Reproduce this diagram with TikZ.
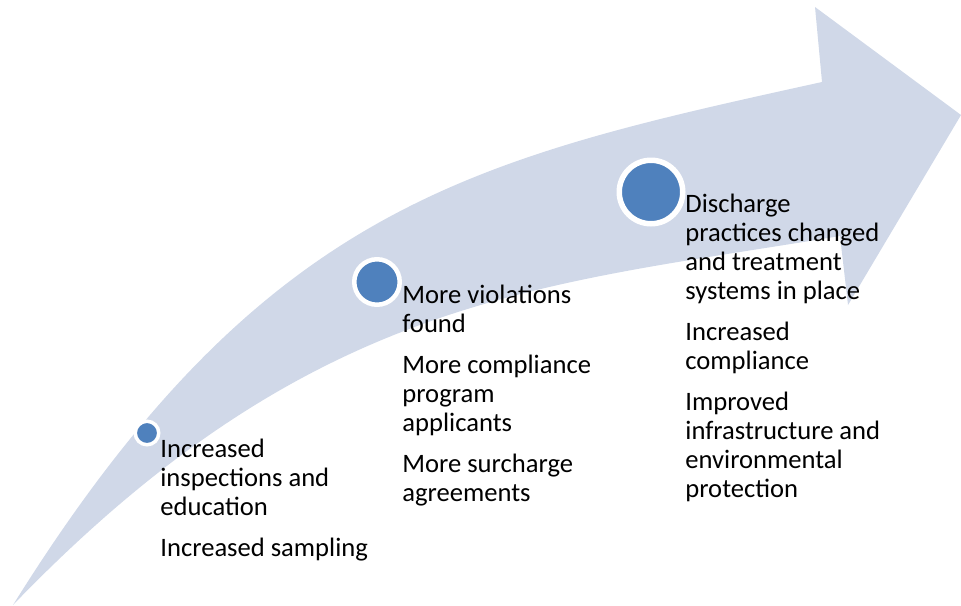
\documentclass[tikz,border=0pt]{standalone}
\usepackage{fontspec}
\setmainfont{Carlito}
\definecolor{arrowfill}{HTML}{D0D8E8}
\definecolor{dotblue}{HTML}{4F81BD}

\begin{document}
\begin{tikzpicture}[x=0.5pt,y=-0.5pt,
    dot/.style={circle,draw=white,fill=dotblue,inner sep=0pt},
    txt/.style={anchor=north west,inner sep=0pt,align=left,font=\fontsize{13.3}{14.5}\selectfont}]
  \useasboundingbox (0,0) rectangle (961,605);
  \fill[arrowfill] (13,605) .. controls (263,204) and (472,159) .. (822,82) -- (815,7) -- (961,115) -- (848,305) -- (840,236) .. controls (540,286) and (313,294) .. cycle;
  \node(c1)[dot,minimum size=11.75pt,line width=1.75pt] at (147,433){};
  \node(c2)[dot,minimum size=22.75pt,line width=2.25pt] at (377,282){};
  \node(c3)[dot,minimum size=31.75pt,line width=2.75pt] at (651,192){};
  \node(t1)[txt] at (160,439){Increased\\inspections and\\education\\[6pt]Increased sampling};
  \node(t2)[txt] at (402,285){More violations\\found\\[6pt]More compliance\\program\\applicants\\[6pt]More surcharge\\agreements};
  \node(t3)[txt] at (685,194){Discharge\\practices changed\\and treatment\\systems in place\\[6pt]Increased\\compliance\\[6pt]Improved\\infrastructure and\\environmental\\protection};
\end{tikzpicture}
\end{document}
